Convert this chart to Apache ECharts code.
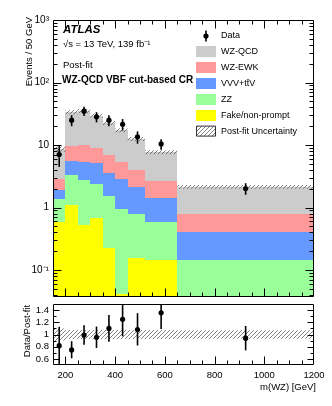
<!DOCTYPE html>
<html><head><meta charset="utf-8">
<script src="https://cdn.jsdelivr.net/npm/echarts@6/dist/echarts.min.js"></script>
<style>html,body{margin:0;padding:0;background:#fff}#c{width:332px;height:406px}</style>
</head><body><div id="c"></div>
<script>
// ---------------- data ----------------
const binEdges = [150, 200, 250, 300, 350, 400, 450, 520, 650, 1200];
// per-process post-fit yields (Events / 50 GeV), stacked bottom -> top
const fakeNonPrompt = [0.59, 1.09, 0.52, 0.69, 0.226, 0.041, 0.153, 0.147, 0];
const zzYield       = [0.80, 2.28, 2.21, 1.67, 1.29, 0.92, 0.63, 0.43, 0.147];
const vvvTtvYield   = [0.55, 2.13, 2.64, 2.70, 2.06, 1.88, 1.36, 0.855, 0.26];
const wzEwkYield    = [0.97, 4.2, 4.53, 4.04, 3.29, 2.41, 1.81, 1.21, 0.373];
const wzQcdYield    = [5.72, 23.8, 25.3, 20.5, 15.8, 11.95, 8.55, 5.03, 1.36];
const relUncertainty = [0.10, 0.075, 0.075, 0.075, 0.075, 0.075, 0.075, 0.075, 0.07];
// data points
const dataX    = [175, 225, 275, 325, 375, 430, 490, 585, 925];
const dataY    = [7.05, 25, 34.8, 28.2, 25, 21.5, 13.5, 10.4, 2.01];
const dataLow  = [4.47, 20, 29, 23, 20, 17, 10.5, 8.4, 1.6];
const dataHigh = [9.6, 30, 41, 33.5, 30, 26, 16.5, 12.4, 2.45];
// ratio panel
const ratioY    = [0.817, 0.747, 0.99, 0.954, 1.10, 1.25, 1.08, 1.356, 0.94];
const ratioLow  = [0.50, 0.61, 0.83, 0.78, 0.88, 0.97, 0.82, 1.09, 0.74];
const ratioHigh = [1.127, 0.89, 1.15, 1.13, 1.32, 1.52, 1.35, 1.60, 1.14];
// axes
const xTickLabels = [200, 400, 600, 800, 1000, 1200];
const ratioTickLabels = [0.6, 0.8, 1, 1.2, 1.4];
const logTickLabels = {'-1': '10\u207B\u00B9', '0': '1', '1': '10', '2': '10\u00B2', '3': '10\u00B3'};

const processes = [
  {name: 'Fake/non-prompt', values: fakeNonPrompt, color: '#ffff00'},
  {name: 'ZZ', values: zzYield, color: '#99ff99'},
  {name: 'VVV+tt\u0304V', values: vvvTtvYield, color: '#6699ff'},
  {name: 'WZ-EWK', values: wzEwkYield, color: '#ff9999'},
  {name: 'WZ-QCD', values: wzQcdYield, color: '#cccccc'}
];

const FONT = '"Liberation Sans", Arial, Helvetica, sans-serif';
const YMIN = 0.037, YMAX = 1000;

function hatchCanvas() {
  const c = document.createElement('canvas');
  c.width = 4; c.height = 4;
  const g = c.getContext('2d');
  g.strokeStyle = '#4a4a4a'; g.lineWidth = 0.7;
  g.beginPath();
  g.moveTo(0, 4); g.lineTo(4, 0);
  g.moveTo(-1, 1); g.lineTo(1, -1);
  g.moveTo(3, 5); g.lineTo(5, 3);
  g.stroke();
  return c;
}
const hatchFill = {image: hatchCanvas(), repeat: 'repeat'};

// cumulative stack rows [x0, x1, lo, hi]
const cum = binEdges.slice(0, -1).map(() => 0);
const stackSeries = processes.map(p => {
  const rows = p.values.map((v, i) => {
    const lo = cum[i];
    cum[i] += v;
    return [binEdges[i], binEdges[i + 1], lo, cum[i]];
  });
  return {
    type: 'custom', name: p.name, xAxisIndex: 0, yAxisIndex: 0, clip: true, z: 2,
    encode: {x: [0, 1], y: [2, 3]},
    data: rows,
    renderItem: (params, api) => {
      const lo = api.value(2), hi = api.value(3);
      if (!(hi > lo)) return null;
      const p0 = api.coord([api.value(0), Math.max(lo, 1e-4)]);
      const p1 = api.coord([api.value(1), hi]);
      const x0 = Math.round(p0[0]), x1 = Math.round(p1[0]);
      const yb = Math.round(p0[1]), yt = Math.round(p1[1]);
      return {type: 'rect', shape: {x: x0, y: yt, width: x1 - x0, height: yb - yt},
        style: {fill: p.color}};
    }
  };
});
const totals = cum.slice();

function bandRender(params, api) {
  const p0 = api.coord([api.value(0), api.value(2)]);
  const p1 = api.coord([api.value(1), api.value(3)]);
  return {type: 'rect', shape: {x: p0[0], y: p1[1], width: p1[0] - p0[0], height: p0[1] - p1[1]},
    style: {fill: hatchFill}};
}
function pointRender(params, api) {
  const c = api.coord([api.value(0), api.value(1)]);
  const lo = api.coord([api.value(0), api.value(2)]);
  const hi = api.coord([api.value(0), api.value(3)]);
  return {type: 'group', children: [
    {type: 'line', shape: {x1: c[0], y1: lo[1], x2: c[0], y2: hi[1]}, style: {stroke: '#000', lineWidth: 1.6}},
    {type: 'circle', shape: {cx: c[0], cy: c[1], r: 2.6}, style: {fill: '#000'}}
  ]};
}

// tick + frame renderer
function tickSeries(xi, yi, xRef, yRef, xTicks, yTicks) {
  return {
    type: 'custom', xAxisIndex: xi, yAxisIndex: yi, silent: true, z: 20,
    data: [[xRef, yRef]],
    renderItem: (params, api) => {
      const cs = params.coordSys;
      const L = Math.round(cs.x) + 0.5, R = Math.round(cs.x + cs.width) - 0.5;
      const T = Math.round(cs.y) + 0.5, B = Math.round(cs.y + cs.height) - 0.5;
      const ch = [];
      const add = (x1, y1, x2, y2) => ch.push({type: 'line', shape: {x1, y1, x2, y2}, style: {stroke: '#000', lineWidth: 1}});
      xTicks.forEach(t => {
        const px = Math.round(api.coord([t.v, yRef])[0]) + 0.5;
        add(px, B, px, B - t.len);
        if (t.top) add(px, T, px, T + t.len);
      });
      yTicks.forEach(t => {
        const py = Math.round(api.coord([xRef, t.v])[1]) + 0.5;
        add(L, py, L + t.len, py);
        add(R, py, R - t.len, py);
      });
      ch.push({type: 'rect', shape: {x: L, y: T, width: R - L, height: B - T}, style: {fill: null, stroke: '#000', lineWidth: 1}});
      return {type: 'group', children: ch};
    }
  };
}
const xTicksUpper = [], xTicksRatio = [];
for (let v = 200; v < 1200; v += 50) {
  const major = v % 200 === 0;
  xTicksUpper.push({v, len: major ? 8 : 4, top: true});
  xTicksRatio.push({v, len: major ? 8 : 4, top: false});
}
const yTicksLog = [];
for (let k = -2; k <= 2; k++) {
  for (let m = 1; m <= 9; m++) {
    const v = m * Math.pow(10, k);
    if (v > YMIN && v < YMAX) yTicksLog.push({v, len: m === 1 ? 8 : 4});
  }
}
const yTicksRatio = [];
for (let i = 6; i <= 14; i++) yTicksRatio.push({v: i / 10, len: i % 2 === 0 ? 6 : 3});

const axisLabelBase = {fontFamily: FONT, color: '#000', fontSize: 9.5};

const option = {
  animation: false,
  backgroundColor: '#fff',
  grid: [
    {left: 53, top: 20, width: 261, height: 277},
    {left: 53, top: 304, width: 261, height: 61}
  ],
  xAxis: [
    {type: 'value', gridIndex: 0, min: 150, max: 1200, interval: 50,
     axisLine: {show: false}, axisTick: {show: false}, splitLine: {show: false}, axisLabel: {show: false}},
    {type: 'value', gridIndex: 1, min: 150, max: 1200, interval: 50,
     axisLine: {show: false}, axisTick: {show: false}, splitLine: {show: false},
     axisLabel: Object.assign({}, axisLabelBase, {interval: 0, margin: 5, showMinLabel: true, showMaxLabel: true,
       formatter: v => xTickLabels.indexOf(Math.round(v)) >= 0 ? String(Math.round(v)) : ''})}
  ],
  yAxis: [
    {type: 'log', logBase: 10, gridIndex: 0, min: YMIN, max: YMAX,
     axisLine: {show: false}, axisTick: {show: false}, splitLine: {show: false},
     axisLabel: Object.assign({}, axisLabelBase, {fontSize: 10, margin: 4, showMinLabel: true, showMaxLabel: true,
       formatter: v => {
         const l = Math.log10(v), r = Math.round(l);
         return Math.abs(l - r) < 1e-6 && logTickLabels[r] !== undefined ? logTickLabels[r] : '';
       }})},
    {type: 'value', gridIndex: 1, min: 0.5, max: 1.5, interval: 0.1,
     axisLine: {show: false}, axisTick: {show: false}, splitLine: {show: false},
     axisLabel: Object.assign({}, axisLabelBase, {interval: 0, margin: 4, showMinLabel: true, showMaxLabel: true,
       formatter: v => {
         const r = Math.round(v * 10) / 10;
         return ratioTickLabels.indexOf(r) >= 0 ? String(r) : '';
       }})}
  ],
  series: [].concat(stackSeries, [
    {type: 'custom', name: 'Post-fit Uncertainty', xAxisIndex: 0, yAxisIndex: 0, clip: true, z: 3,
     encode: {x: [0, 1], y: [2, 3]},
     data: totals.map((t, i) => [binEdges[i], binEdges[i + 1], t * (1 - relUncertainty[i]), t * (1 + relUncertainty[i])]),
     renderItem: bandRender},
    {type: 'custom', name: 'Data', xAxisIndex: 0, yAxisIndex: 0, clip: true, z: 5,
     encode: {x: 0, y: [1, 2, 3]},
     data: dataX.map((x, i) => [x, dataY[i], dataLow[i], dataHigh[i]]),
     renderItem: pointRender},
    {type: 'custom', name: 'Ratio uncertainty', xAxisIndex: 1, yAxisIndex: 1, clip: true, z: 3,
     encode: {x: [0, 1], y: [2, 3]},
     data: relUncertainty.map((u, i) => [binEdges[i], binEdges[i + 1], 1 - u, 1 + u]),
     renderItem: bandRender},
    {type: 'custom', name: 'Ratio', xAxisIndex: 1, yAxisIndex: 1, clip: true, z: 5,
     encode: {x: 0, y: [1, 2, 3]},
     data: dataX.map((x, i) => [x, ratioY[i], ratioLow[i], ratioHigh[i]]),
     renderItem: pointRender},
    tickSeries(0, 0, 150, 1, xTicksUpper, yTicksLog),
    tickSeries(1, 1, 150, 1, xTicksRatio, yTicksRatio)
  ]),
  graphic: []
};

// text annotations
const g = option.graphic;
const txt = (x, y, text, extra) => g.push(Object.assign({type: 'text', x, y, z: 30,
  style: Object.assign({text, fontFamily: FONT, fontSize: 9.5, fill: '#000', textVerticalAlign: 'middle'}, extra && extra.style)},
  extra && extra.props));
txt(63, 30, 'ATLAS', {style: {fontSize: 11.5, fontWeight: 'bold', fontStyle: 'italic'}});
txt(63, 44, '\u221As = 13 TeV, 139 fb\u207B\u00B9', {style: {fontSize: 9.5}});
txt(63, 65, 'Post-fit', {style: {fontSize: 9.5}});
txt(62, 80, 'WZ-QCD VBF cut-based CR', {style: {fontSize: 10, fontWeight: 'bold'}});
// axis titles
txt(316, 387, 'm(WZ) [GeV]', {style: {textAlign: 'right'}});
txt(29, 17, 'Events / 50 GeV', {style: {textAlign: 'right'}, props: {rotation: Math.PI / 2}});
txt(27, 331, 'Data/Post-fit', {style: {textAlign: 'center'}, props: {rotation: Math.PI / 2}});

// legend
const legendItems = [
  {label: 'Data', kind: 'data'},
  {label: 'WZ-QCD', color: '#cccccc'},
  {label: 'WZ-EWK', color: '#ff9999'},
  {label: 'VVV+tt\u0304V', color: '#6699ff'},
  {label: 'ZZ', color: '#99ff99'},
  {label: 'Fake/non-prompt', color: '#ffff00'},
  {label: 'Post-fit Uncertainty', kind: 'hatch'}
];
legendItems.forEach((it, i) => {
  const yc = 36 + i * 15.85;
  if (it.kind === 'data') {
    g.push({type: 'line', z: 30, shape: {x1: 206, y1: yc - 5.5, x2: 206, y2: yc + 5.5}, style: {stroke: '#000', lineWidth: 1.6}});
    g.push({type: 'circle', z: 30, shape: {cx: 206, cy: yc, r: 2.6}, style: {fill: '#000'}});
  } else if (it.kind === 'hatch') {
    g.push({type: 'rect', z: 30, shape: {x: 196.5, y: yc - 5, width: 19, height: 10}, style: {fill: hatchFill, stroke: '#333', lineWidth: 1}});
  } else {
    g.push({type: 'rect', z: 30, shape: {x: 196, y: Math.round(yc - 5.5), width: 20, height: 11}, style: {fill: it.color}});
  }
  txt(221, yc, it.label, {style: {fontSize: 9}});
});

const chart = echarts.init(document.getElementById('c'), null, {renderer: 'canvas'});
chart.setOption(option);
</script>
</body></html>
